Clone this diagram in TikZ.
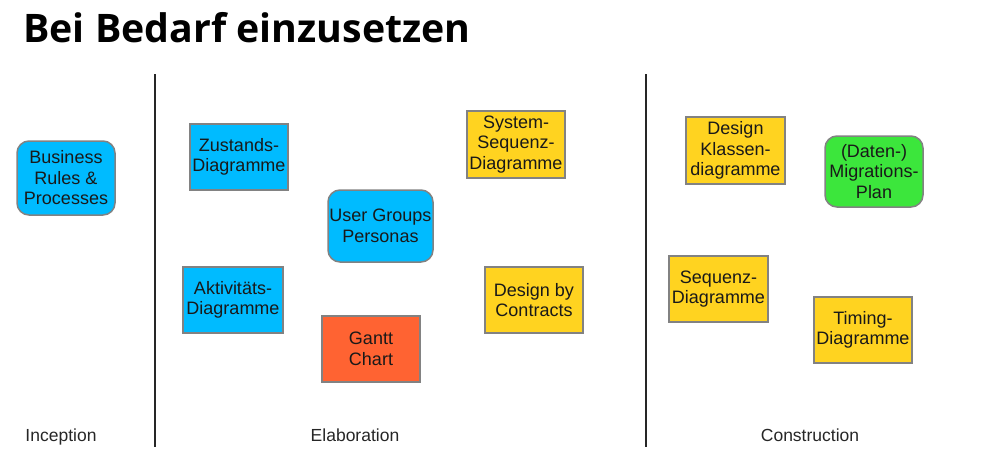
\documentclass[tikz,border=0pt]{standalone}
\usepackage{fontspec}
\setmainfont{Liberation Sans}
\newfontfamily\titlefont{Open Sans}
\definecolor{boxblue}{RGB}{0,187,255}
\definecolor{boxyellow}{RGB}{255,211,32}
\definecolor{boxorange}{RGB}{255,99,50}
\definecolor{boxgreen}{RGB}{60,230,60}
\definecolor{boxborder}{RGB}{130,130,130}
\begin{document}
\begin{tikzpicture}[x=1pt,y=-1pt,
  base/.style={draw=boxborder, line width=1.5pt, align=center, inner sep=0pt,
    font=\fontsize{18}{20.5}\selectfont, text=black!90},
  sqbox/.style={base},
  rdbox/.style={base, rounded corners=12pt},
  phase/.style={font=\fontsize{17.5}{20}\selectfont, text=black!85, anchor=base},
  divider/.style={line width=1.5pt, black!85}]
\useasboundingbox (0,0) rectangle (983,456);
\node[anchor=base west, inner sep=0pt, font=\titlefont\bfseries\fontsize{39.3}{44}\selectfont] (title) at (23,42) {Bei Bedarf einzusetzen};

\coordinate (l1t) at (155,74); \coordinate (l1b) at (155,447);
\coordinate (l2t) at (646,74); \coordinate (l2b) at (646,447);
\draw[divider] (l1t) -- (l1b);
\draw[divider] (l2t) -- (l2b);

\node[rdbox, fill=boxblue, minimum width=98pt, minimum height=74pt] (brp) at (66,178) {Business\\Rules \&\\Processes};
\node[sqbox, fill=boxblue, minimum width=98pt, minimum height=66pt] (zus) at (239,157) {Zustands-\\Diagramme};
\node[sqbox, fill=boxblue, minimum width=100pt, minimum height=66pt] (akt) at (233,300) {Aktivitäts-\\Diagramme};
\node[rdbox, fill=boxblue, minimum width=105pt, minimum height=72pt] (ugp) at (380.5,226) {User Groups\\Personas};
\node[sqbox, fill=boxorange, minimum width=98pt, minimum height=66pt] (gantt) at (371,349) {Gantt\\Chart};
\node[sqbox, fill=boxyellow, minimum width=98pt, minimum height=67pt] (ssd) at (516,144.5) {System-\\Sequenz-\\Diagramme};
\node[sqbox, fill=boxyellow, minimum width=98pt, minimum height=66pt] (dbc) at (534,300) {Design by\\Contracts};
\node[sqbox, fill=boxyellow, minimum width=99pt, minimum height=67pt] (dkd) at (735.5,150.5) {Design\\Klassen-\\diagramme};
\node[rdbox, fill=boxgreen, minimum width=98pt, minimum height=71pt] (mig) at (874,171.5) {(Daten-)\\Migrations-\\Plan};
\node[sqbox, fill=boxyellow, minimum width=99pt, minimum height=66pt] (seq) at (718.5,289) {Sequenz-\\Diagramme};
\node[sqbox, fill=boxyellow, minimum width=98pt, minimum height=66pt] (tim) at (863,330) {Timing-\\Diagramme};

\node[phase] (inc) at (61,441.5) {Inception};
\node[phase] (ela) at (355,441.5) {Elaboration};
\node[phase] (con) at (810,441.5) {Construction};
\end{tikzpicture}
\end{document}
